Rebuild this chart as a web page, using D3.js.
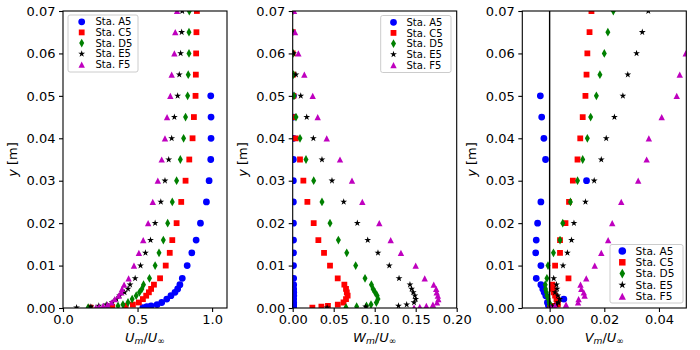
<!DOCTYPE html>
<html><head><meta charset="utf-8">
<script src="https://cdn.jsdelivr.net/npm/d3@7"></script>
<style>body{margin:0;background:#fff}svg{display:block}text{font-family:"DejaVu Sans",sans-serif}</style>
</head><body><svg id="c" width="700" height="350"></svg>
<script>
// ---------- data ----------
const Y_LEVELS = [0.07,0.065,0.06,0.055,0.05,0.045,0.04,0.035,0.03,0.025,0.02,0.016,0.013,0.01,0.007,
  0.0055,0.0045,0.0037,0.0029,0.0021,0.0013,0.0008,0.0005,0.0003,0.0001];
const STATIONS = ["Sta. A5","Sta. C5","Sta. D5","Sta. E5","Sta. F5"];
const Y_TICKS = [0,0.01,0.02,0.03,0.04,0.05,0.06,0.07];
const U_TICKS = [0,0.5,1.0];
const W_TICKS = [0,0.05,0.1,0.15,0.2];
const V_TICKS = [0,0.02,0.04];

const U_A5 = [null,null,null,null,0.991,0.993,0.993,0.991,0.98,0.962,0.922,0.893,0.864,0.833,0.80,0.784,0.769,0.751,0.724,0.696,0.662,0.631,0.591,0.562,0.536];
const U_C5 = [0.898,0.895,0.893,0.891,0.889,0.878,0.869,0.847,0.822,0.793,0.762,0.733,0.716,0.689,0.651,0.61,0.591,0.576,0.558,0.536,0.509,0.469,0.42,0.33,0.184];
const U_D5 = [0.847,0.845,0.845,0.84,0.836,0.822,0.809,0.787,0.762,0.733,0.702,0.673,0.644,0.618,0.58,0.54,0.529,0.513,0.491,0.464,0.436,0.402,0.369,0.30,0.169];
const U_E5 = [0.80,0.796,0.789,0.78,0.769,0.747,0.729,0.709,0.684,0.656,0.618,0.587,0.553,0.52,0.484,0.45,0.436,0.413,0.38,0.358,0.33,0.29,0.24,0.187,0.091];
const U_F5 = [0.765,0.753,0.747,0.729,0.72,0.698,0.684,0.662,0.636,0.602,0.571,0.538,0.509,0.476,0.44,0.41,0.396,0.391,0.373,0.347,0.324,0.298,0.269,0.242,0.22];

const W_A5 = [null,null,null,null,0.001,0.001,0.001,0.0008,0.0008,0.0008,0.0009,0.001,0.001,0.001,0.0012,0.0012,0.0012,0.0013,0.0013,0.0012,0.0012,0.0011,0.001,0.001,0.0008];
const W_C5 = [0,0,0,0.0005,0.0008,0.0016,0.0036,0.0089,0.013,0.0179,0.0256,0.0313,0.0382,0.0455,0.0549,0.063,0.065,0.066,0.067,0.065,0.062,0.055,0.043,0.035,0.024];
const W_D5 = [0,0,0.0005,0.001,0.0016,0.004,0.0089,0.0162,0.0256,0.0357,0.0455,0.0557,0.0659,0.0768,0.0882,0.096,0.098,0.1004,0.103,0.104,0.102,0.0955,0.090,0.078,0.065];
const W_E5 = [0,0,0.001,0.004,0.0098,0.0171,0.0252,0.0357,0.0479,0.0622,0.0788,0.0915,0.104,0.1178,0.1297,0.143,0.145,0.147,0.149,0.150,0.148,0.139,0.129,0.089,0.042];
const W_F5 = [0.0016,0.0028,0.0069,0.0142,0.0244,0.0305,0.0415,0.0577,0.0723,0.0849,0.1056,0.1195,0.132,0.150,0.161,0.172,0.175,0.1756,0.177,0.1776,0.176,0.171,0.163,0.155,0.148];

const V_A5 = [null,null,null,null,-0.0034,-0.0029,-0.0021,-0.0015,0.0135,-0.0032,-0.0044,-0.0049,-0.0051,-0.0032,-0.0049,-0.0032,-0.0025,-0.002,-0.0014,0.0052,-0.0008,-0.0005,-0.0003,-0.0001,0.0];
const V_C5 = [0.0153,0.0146,0.0138,0.0135,0.0131,0.0121,0.0112,0.0102,0.0085,0.0071,0.0058,0.0038,0.0038,0.002,0.0069,0.001,0.0012,0.0015,0.002,0.0025,0.0028,0.003,0.0015,0.0005,0.0002];
const V_D5 = [0.0233,0.0213,0.02,0.0184,0.0171,0.015,0.0138,0.0121,0.0102,0.0076,0.0048,0.0038,0.0014,-0.0006,-0.001,-0.0016,-0.0015,-0.0012,-0.001,-0.0005,-0.0002,0.0,0.0005,0.0002,0.0];
const V_E5 = [0.0361,0.0339,0.0318,0.0286,0.0268,0.0237,0.0207,0.0189,0.0163,0.0131,0.0089,0.008,0.0065,0.0049,0.0015,0.0025,0.0027,0.002,0.003,0.0037,0.0032,0.0025,0.0018,0.001,0.0005];
const V_F5 = [0.056,0.053,0.0498,0.0476,0.0465,0.041,0.0363,0.0355,0.0324,0.0262,0.0229,0.0214,0.0189,0.0165,0.0134,0.0113,0.0116,0.0125,0.0128,0.0106,0.0104,0.006,0.002,0.0003,0.0];

// ---------- styling ----------
const COLORS = ["#0000ff","#ff0000","#008000","#000000","#bf00bf"];
function makeSym(k){
  return [
    {draw(c){const r=3.4*k;c.moveTo(r,0);c.arc(0,0,r,0,2*Math.PI);}},
    {draw(c){const h=2.9*k;c.rect(-h,-h,2*h,2*h);}},
    {draw(c){c.moveTo(0,-4.4*k);c.lineTo(2.5*k,0);c.lineTo(0,4.4*k);c.lineTo(-2.5*k,0);c.closePath();}},
    {draw(c){const R=3.6*k,r=R*0.381966;for(let i=0;i<10;i++){const a=-Math.PI/2+i*Math.PI/5,rr=i%2?r:R;const x=rr*Math.cos(a),y=rr*Math.sin(a);i?c.lineTo(x,y):c.moveTo(x,y);}c.closePath();}},
    {draw(c){c.moveTo(0,-3.1*k);c.lineTo(3.2*k,3.1*k);c.lineTo(-3.2*k,3.1*k);c.closePath();}}
  ];
}
const SYM = makeSym(1);
const SYM_BIG = makeSym(1.12);
const FS = 13;
const TOP = 11, BOT = 308, W = 164;

const svg = d3.select("#c");
const y = d3.scaleLinear().domain([0,0.07]).range([BOT,TOP]);

const panels = [
  {left:63, dom:[0,1.1], ticks:U_TICKS, fmt:".1f", series:[U_A5,U_C5,U_D5,U_E5,U_F5], lab:["U","m","U","∞"],
   legend:{x:68,y:15,w:70,h:57,fs:10,mx:81.7,tx:95.5,rows:[21.8,32.4,43.1,53.8,64.6],sym:SYM}},
  {left:292.7, dom:[0,0.2], ticks:W_TICKS, fmt:".2f", series:[W_A5,W_C5,W_D5,W_E5,W_F5], lab:["W","m","U","∞"],
   legend:{x:380.7,y:15.5,w:70.3,h:57,fs:10,mx:393.5,tx:406.5,rows:[22.3,32.9,43.6,54.3,65.1],sym:SYM}},
  {left:522.3, dom:[-0.01,0.05], ticks:V_TICKS, fmt:".2f", series:[V_A5,V_C5,V_D5,V_E5,V_F5], lab:["V","m","U","∞"], vline:true,
   legend:{x:610,y:244.5,w:73,h:58.5,fs:10.6,mx:622.3,tx:635.5,rows:[251,262.3,273.6,284.9,296.2],sym:SYM_BIG}}
];

panels.forEach((p,pi)=>{
  const x = d3.scaleLinear().domain(p.dom).range([p.left,p.left+W]);
  const g = svg.append("g");
  const cid = "clip"+pi;
  svg.append("clipPath").attr("id",cid).append("rect")
    .attr("x",p.left).attr("y",TOP).attr("width",W).attr("height",BOT-TOP);
  const pg = g.append("g").attr("clip-path",`url(#${cid})`);
  p.series.forEach((arr,si)=>{
    const pts = Y_LEVELS.map((yy,i)=>({y:yy,v:arr[i]})).filter(d=>d.v!==null);
    pg.append("g").selectAll("path").data(pts).join("path")
      .attr("transform",d=>`translate(${x(d.v)},${y(d.y)})`)
      .attr("d",d3.symbol().type(SYM[si]).size(1))
      .attr("fill",COLORS[si]);
  });
  if(p.vline){
    pg.append("line").attr("x1",x(0)).attr("x2",x(0)).attr("y1",TOP).attr("y2",BOT)
      .attr("stroke","#000").attr("stroke-width",1.4);
  }
  // spines
  g.append("rect").attr("x",p.left).attr("y",TOP).attr("width",W).attr("height",BOT-TOP)
    .attr("fill","none").attr("stroke","#000").attr("stroke-width",1.1);
  // axes
  const ax = g.append("g").attr("transform",`translate(0,${BOT})`)
    .call(d3.axisBottom(x).tickValues(p.ticks).tickFormat(d3.format(p.fmt)).tickSizeOuter(0).tickSize(4).tickPadding(2.8));
  const ay = g.append("g").attr("transform",`translate(${p.left},0)`)
    .call(d3.axisLeft(y).tickValues(Y_TICKS).tickFormat(d3.format(".2f")).tickSizeOuter(0).tickSize(4).tickPadding(3.5));
  [ax,ay].forEach(a=>{
    a.select(".domain").remove();
    a.selectAll("line").attr("stroke","#000").attr("stroke-width",1.1);
    a.selectAll("text").attr("font-size",FS).attr("fill","#000").attr("font-family","DejaVu Sans");
  });
  // y label
  const yl = g.append("text").attr("transform",`translate(${p.left-46},${(TOP+BOT)/2}) rotate(-90)`)
    .attr("text-anchor","middle").attr("font-size",FS);
  yl.append("tspan").attr("font-style","italic").text("y");
  yl.append("tspan").text(" [m]");
  // x label
  const xl = g.append("text").attr("x",p.left+W/2).attr("y",341.7).attr("text-anchor","middle").attr("font-size",FS);
  xl.append("tspan").attr("font-style","italic").text(p.lab[0]);
  xl.append("tspan").attr("font-style","italic").attr("font-size",FS*0.7).attr("dy",2.5).text(p.lab[1]);
  xl.append("tspan").attr("dy",-2.5).text("/");
  xl.append("tspan").attr("font-style","italic").text(p.lab[2]);
  xl.append("tspan").attr("font-size",FS*0.7).attr("dy",2.5).text(p.lab[3]);
  // legend
  const L = p.legend;
  const lg = g.append("g");
  lg.append("rect").attr("x",L.x).attr("y",L.y).attr("width",L.w).attr("height",L.h).attr("rx",2)
    .attr("fill","#fff").attr("fill-opacity",0.8).attr("stroke","#cccccc").attr("stroke-width",1);
  STATIONS.forEach((s,si)=>{
    lg.append("path").attr("transform",`translate(${L.mx},${L.rows[si]})`)
      .attr("d",d3.symbol().type(L.sym[si]).size(1)).attr("fill",COLORS[si]);
    lg.append("text").attr("x",L.tx).attr("y",L.rows[si]).attr("dy","0.36em")
      .attr("font-size",L.fs).text(s);
  });
});
</script></body></html>
